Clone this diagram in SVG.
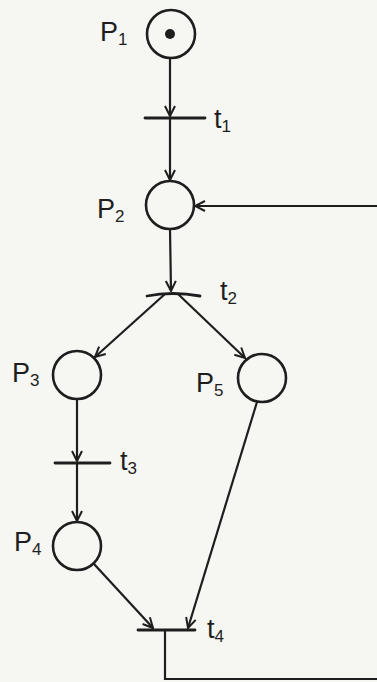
<svg xmlns="http://www.w3.org/2000/svg" width="377" height="682" viewBox="0 0 377 682">
<style>
.bg{fill:#f6f6f3}
.pl{fill:none;stroke:#1e1e1e;stroke-width:2.6}
.tr{stroke:#1e1e1e;stroke-width:2.8;stroke-linecap:round}
.ed{fill:none;stroke:#1e1e1e;stroke-width:2.2}
.lb{font-family:"Liberation Sans",Arial,sans-serif;font-size:27px;fill:#1e1e1e}
.sb{font-size:17px}
</style>
<defs>
<marker id="ah" viewBox="0 0 12 12" refX="11" refY="6" markerWidth="12" markerHeight="12" markerUnits="userSpaceOnUse" orient="auto">
<path d="M1,1 L11,6 L1,11" fill="none" stroke="#1e1e1e" stroke-width="2"/>
</marker>
</defs>
<rect class="bg" x="0" y="0" width="377" height="682"/>
<g id="connectors">
<line class="ed" x1="170" y1="59" x2="170" y2="116" marker-end="url(#ah)"/>
<line class="ed" x1="170" y1="118" x2="170" y2="180" marker-end="url(#ah)"/>
<line class="ed" x1="170" y1="229" x2="171" y2="291" marker-end="url(#ah)"/>
<line class="ed" x1="165" y1="294" x2="95" y2="357" marker-end="url(#ah)"/>
<line class="ed" x1="178" y1="294" x2="245" y2="358" marker-end="url(#ah)"/>
<line class="ed" x1="77" y1="399" x2="77" y2="461" marker-end="url(#ah)"/>
<line class="ed" x1="77" y1="463" x2="77" y2="521" marker-end="url(#ah)"/>
<line class="ed" x1="94" y1="564" x2="153" y2="628" marker-end="url(#ah)"/>
<line class="ed" x1="257" y1="402" x2="188" y2="628" marker-end="url(#ah)"/>
<polyline class="ed" points="165,630 165,679 380,679 380,206 195,206" marker-end="url(#ah)"/>
</g>
<g id="P1">
<circle class="pl" cx="171" cy="34" r="24"/>
<circle cx="170" cy="34" r="5" fill="#1e1e1e"/>
<text class="lb" x="100" y="41">P<tspan class="sb" dy="4">1</tspan></text>
</g>
<g id="t1">
<line class="tr" x1="145" y1="118" x2="205" y2="118"/>
<text class="lb" x="214" y="128">t<tspan class="sb" dy="4">1</tspan></text>
</g>
<g id="P2">
<circle class="pl" cx="170" cy="205" r="24"/>
<text class="lb" x="97" y="218">P<tspan class="sb" dy="4">2</tspan></text>
</g>
<g id="t2">
<path class="tr" fill="none" d="M147,296 Q172,291 200,296"/>
<text class="lb" x="220" y="300">t<tspan class="sb" dy="4">2</tspan></text>
</g>
<g id="P3">
<circle class="pl" cx="77" cy="375" r="24"/>
<text class="lb" x="12" y="382">P<tspan class="sb" dy="4">3</tspan></text>
</g>
<g id="P5">
<circle class="pl" cx="262" cy="378" r="24"/>
<text class="lb" x="196" y="392">P<tspan class="sb" dy="4">5</tspan></text>
</g>
<g id="t3">
<line class="tr" x1="55" y1="463" x2="110" y2="463"/>
<text class="lb" x="120" y="470">t<tspan class="sb" dy="4">3</tspan></text>
</g>
<g id="P4">
<circle class="pl" cx="77" cy="546" r="24"/>
<text class="lb" x="14" y="551">P<tspan class="sb" dy="4">4</tspan></text>
</g>
<g id="t4">
<line class="tr" x1="138" y1="630" x2="195" y2="630"/>
<text class="lb" x="207" y="638">t<tspan class="sb" dy="4">4</tspan></text>
</g>
</svg>
